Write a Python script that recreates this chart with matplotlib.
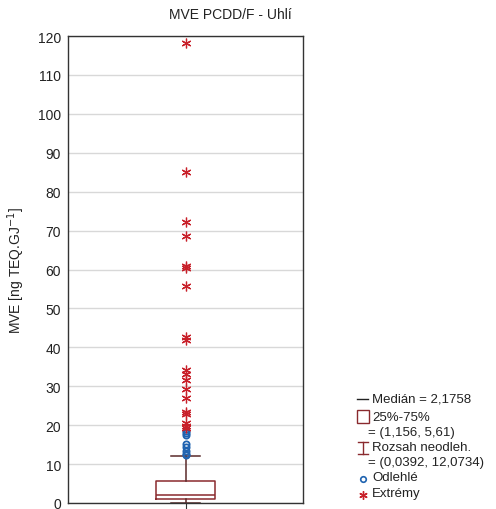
import matplotlib
matplotlib.use('Agg')
import matplotlib.pyplot as plt
from matplotlib.lines import Line2D
from matplotlib.patches import Rectangle

plt.rcParams['font.family'] = ['Liberation Sans', 'DejaVu Sans']

title = 'MVE PCDD/F - Uhlí'
ylabel = 'MVE [ng TEQ.GJ$^{-1}$]'

# box statistics
median = 2.1758
q1, q3 = 1.156, 5.61
whislo, whishi = 0.0392, 12.0734

# outliers and extremes
outliers = [12.3, 12.7, 13.3, 14.4, 15.2, 17.4, 17.9, 18.5]
extremes = [19.4, 19.9, 20.5, 22.8, 23.3, 27.0, 29.3, 31.6, 33.1, 34.1,
            41.8, 42.6, 55.7, 60.3, 61.0, 68.6, 72.3, 85.0, 118.3]

legend_lines = ['Medián = 2,1758', '25%-75%', '= (1,156, 5,61)',
                'Rozsah neodleh.', '= (0,0392, 12,0734)', 'Odlehlé', 'Extrémy']

box_col = '#8a2a2e'
red = '#c8202a'
blue = '#1f63b0'

W, H = 496, 510
fig = plt.figure(figsize=(W / 100, H / 100), dpi=100)
ax = fig.add_axes([68 / W, 1 - 504 / H, (303 - 68) / W, (504 - 37) / H])

stats = [dict(med=median, q1=q1, q3=q3, whislo=whislo, whishi=whishi, fliers=[])]
ax.bxp(stats, positions=[1], widths=0.247, showfliers=False,
       boxprops=dict(color=box_col, lw=1.1),
       medianprops=dict(color=box_col, lw=1.1),
       whiskerprops=dict(color='#5a2a2a', lw=1.1),
       capprops=dict(color='#5a2a2a', lw=1.1), capwidths=0.12)
ax.plot([1] * len(outliers), outliers, 'o', ms=4.5, mfc='none', mec=blue, mew=1.3)
ax.plot([1] * len(extremes), extremes, ls='none', marker=(6, 2, 0), ms=7,
        mec=red, mew=0.9)

ax.set_xlim(0.5, 1.5)
ax.set_ylim(0, 120)
ax.set_yticks(range(0, 121, 10))
ax.set_xticks([1])
ax.set_xticklabels([''])
ax.yaxis.grid(True, color='#d8d8d8', lw=1)
ax.set_axisbelow(True)
ax.tick_params(axis='y', length=0, labelsize=10, pad=5, colors='#222222')
ax.tick_params(axis='x', length=4, direction='out', color='#333333')
for s in ax.spines.values():
    s.set_color('#333333')
    s.set_linewidth(1.0)

fig.text(16 / W, 1 - 271 / H, ylabel, rotation=90, ha='center', va='center',
         fontsize=10, color='#222222')
fig.text(230 / W, 1 - 15 / H, title, ha='center', va='center', fontsize=10, color='#222222')

# custom legend
ys = [400, 418, 433, 448, 463, 478, 494]
xs = [372, 372, 368, 372, 368, 372, 372]
for txt, y, x in zip(legend_lines, ys, xs):
    fig.text(x / W, 1 - y / H, txt, ha='left', va='center', fontsize=9.5, color='#222222')

def fx(px):
    return px / W

def fy(py):
    return 1 - py / H

sx = 363
fig.add_artist(Line2D([fx(sx - 6), fx(sx + 5)], [fy(400), fy(400)], color='#222222', lw=1))
fig.add_artist(Rectangle((fx(sx - 6), fy(424)), 12 / W, 13 / H, fill=False,
                         ec=box_col, lw=1, transform=fig.transFigure))
fig.add_artist(Line2D([fx(sx - 5), fx(sx + 5)], [fy(443), fy(443)], color=box_col, lw=1))
fig.add_artist(Line2D([fx(sx - 5), fx(sx + 5)], [fy(455), fy(455)], color=box_col, lw=1))
fig.add_artist(Line2D([fx(sx), fx(sx)], [fy(443), fy(455)], color=box_col, lw=1))
fig.add_artist(Line2D([fx(sx)], [fy(480)], marker='o', ms=4, mfc='none', mec=blue, mew=1.2))
fig.add_artist(Line2D([fx(sx)], [fy(496)], marker=(6, 2, 0), ms=6, mec=red, mew=1.0))

fig.savefig('out.png', dpi=100)
